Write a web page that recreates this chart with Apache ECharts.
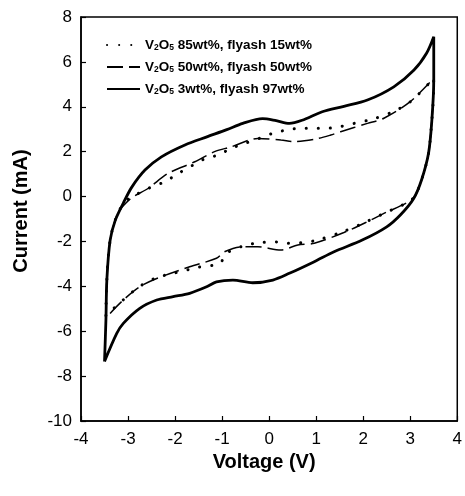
<!DOCTYPE html>
<html>
<head>
<meta charset="utf-8">
<script src="https://cdn.jsdelivr.net/npm/echarts@6/dist/echarts.min.js"></script>
<style>html,body{margin:0;padding:0;background:#fff}#c{width:465px;height:496px}</style>
</head>
<body>
<div id="c"></div>
<script>
// Series names
const names = [
  'V2O5 85wt%, flyash 15wt%',
  'V2O5 50wt%, flyash 50wt%',
  'V2O5 3wt%, flyash 97wt%'
];
// Axis ranges / ticks
const xTicks = [-4, -3, -2, -1, 0, 1, 2, 3, 4];
const yTicks = [-10, -8, -6, -4, -2, 0, 2, 4, 6, 8];

// Cyclic voltammograms, [voltage V, current mA]
const cv85 = [
  [-3.47,-5.30],[-3.45,-3.70],[-3.38,-1.94],[-3.22,-0.75],[-3.02,-0.15],[-2.80,0.12],[-2.53,0.40],
  [-2.22,0.66],[-1.93,1.03],[-1.62,1.40],[-1.37,1.68],[-1.09,1.85],[-0.80,2.15],[-0.50,2.38],
  [-0.21,2.59],[0.08,2.82],[0.36,2.96],[0.64,3.04],[0.92,3.04],[1.21,3.04],[1.49,3.11],[1.81,3.26],
  [2.20,3.45],[2.60,3.75],[3.00,4.22],[3.50,5.27],
  [3.49,4.30],[3.46,3.41],[3.39,1.94],[3.24,0.74],[3.05,-0.10],[2.44,-0.75],[2.09,-1.10],
  [1.59,-1.55],[1.00,-1.95],[0.68,-2.06],[0.39,-2.08],[0.15,-2.02],[-0.21,-2.06],[-0.55,-2.20],
  [-0.91,-2.53],[-1.05,-2.98],[-1.50,-3.15],[-2.00,-3.40],[-2.40,-3.62],[-2.75,-4.00],
  [-3.10,-4.60],[-3.47,-5.30]
];
const cv50 = [
  [-3.47,-5.45],[-3.45,-3.70],[-3.38,-1.94],[-3.22,-0.75],[-3.05,-0.30],[-2.92,-0.05],[-2.57,0.37],
  [-2.15,1.03],[-1.58,1.55],[-1.16,2.00],[-0.80,2.22],[-0.24,2.59],[0.25,2.52],[0.54,2.45],
  [0.96,2.55],[1.31,2.74],[1.52,2.89],[2.09,3.26],[2.44,3.49],[3.00,4.23],[3.50,5.27],
  [3.49,4.30],[3.46,3.41],[3.39,1.94],[3.24,0.74],[3.05,-0.10],[2.44,-0.75],[2.09,-1.12],
  [1.59,-1.60],[0.96,-2.08],[0.61,-2.16],[0.25,-2.38],[-0.24,-2.24],[-0.59,-2.24],[-0.95,-2.46],
  [-1.12,-2.75],[-1.69,-3.13],[-2.39,-3.65],[-2.75,-4.02],[-3.10,-4.61],[-3.45,-5.36],[-3.47,-5.45]
];
const cv3 = [
  [-3.50,-7.35],[-3.47,-5.50],[-3.45,-3.70],[-3.38,-1.94],[-3.27,-1.05],[-3.10,-0.29],[-2.92,0.42],
  [-2.64,1.18],[-2.29,1.77],[-1.79,2.30],[-1.31,2.67],[-0.90,2.98],[-0.56,3.26],[-0.14,3.47],
  [0.15,3.38],[0.43,3.26],[0.70,3.40],[1.13,3.78],[1.59,4.02],[2.09,4.30],[2.65,4.89],[3.08,5.64],
  [3.35,6.40],[3.50,7.12],
  [3.50,5.19],[3.46,3.41],[3.39,1.94],[3.24,0.74],[3.07,-0.10],[2.80,-0.80],[2.50,-1.35],
  [1.98,-1.94],[1.38,-2.46],[0.96,-2.90],[0.43,-3.42],[0.08,-3.72],[-0.35,-3.84],[-0.77,-3.72],
  [-1.12,-3.80],[-1.33,-4.02],[-1.69,-4.31],[-2.04,-4.46],[-2.39,-4.61],[-2.75,-4.98],
  [-3.10,-5.65],[-3.24,-6.10],[-3.50,-7.35]
];

const chart = echarts.init(document.getElementById('c'), null, {renderer: 'canvas'});
const font = 'Liberation Sans, Arial, sans-serif';
function fmt(name) {
  const rest = name.slice(4);
  return '{b|V}{s|2}{b|O}{s|5}{b|' + rest + '}';
}
chart.setOption({
  animation: false,
  backgroundColor: '#fff',
  grid: {left: 81, right: 6, top: 17, bottom: 75, show: true, borderColor: '#000', borderWidth: 1.5, backgroundColor: 'transparent'},
  legend: {
    orient: 'vertical', left: 101, top: 33, itemGap: 7.5, itemWidth: 33, itemHeight: 14,
    data: names,
    formatter: fmt,
    itemStyle: {color: 'transparent', borderWidth: 0, opacity: 0},
    textStyle: {
      color: '#000',
      rich: {
        b: {fontFamily: font, fontWeight: 'bold', fontSize: 13.5, color: '#000'},
        s: {fontFamily: font, fontWeight: 'bold', fontSize: 8.5, color: '#000', verticalAlign: 'bottom', padding: [6, 0, 0, 0]}
      }
    }
  },
  xAxis: {
    type: 'value', min: xTicks[0], max: xTicks[xTicks.length - 1], interval: 1,
    name: 'Voltage (V)', nameLocation: 'middle', nameGap: 31,
    nameTextStyle: {fontFamily: font, fontWeight: 'bold', fontSize: 20, color: '#000', padding: [0, 10, 0, 0]},
    axisLine: {onZero: false, lineStyle: {color: '#000', width: 1.5}},
    axisTick: {inside: true, length: 5, lineStyle: {color: '#000', width: 1.2}},
    axisLabel: {fontFamily: font, fontSize: 17, color: '#000', margin: 10},
    splitLine: {show: false}
  },
  yAxis: {
    type: 'value', min: yTicks[0], max: yTicks[yTicks.length - 1], interval: 2,
    name: 'Current (mA)', nameLocation: 'middle', nameGap: 50,
    nameTextStyle: {fontFamily: font, fontWeight: 'bold', fontSize: 20, color: '#000', padding: [0, 0, 0, 16]},
    axisLine: {onZero: false, lineStyle: {color: '#000', width: 1.5}},
    axisTick: {inside: true, length: 5, lineStyle: {color: '#000', width: 1.2}},
    axisLabel: {fontFamily: font, fontSize: 17, color: '#000', margin: 9},
    splitLine: {show: false}
  },
  series: [
    {name: names[0], type: 'line', data: cv85, smooth: 0.3, symbol: 'none',
     lineStyle: {color: '#000', width: 3, type: [0.1, 12], cap: 'round'}, itemStyle: {color: '#000'}, z: 2},
    {name: names[1], type: 'line', data: cv50, smooth: 0.3, symbol: 'none',
     lineStyle: {color: '#000', width: 1.5, type: [16, 6]}, itemStyle: {color: '#000'}, z: 3},
    {name: names[2], type: 'line', data: cv3, smooth: 0.3, symbol: 'none',
     lineStyle: {color: '#000', width: 2.8}, itemStyle: {color: '#000'}, z: 4}
  ]
});
</script>
</body>
</html>
